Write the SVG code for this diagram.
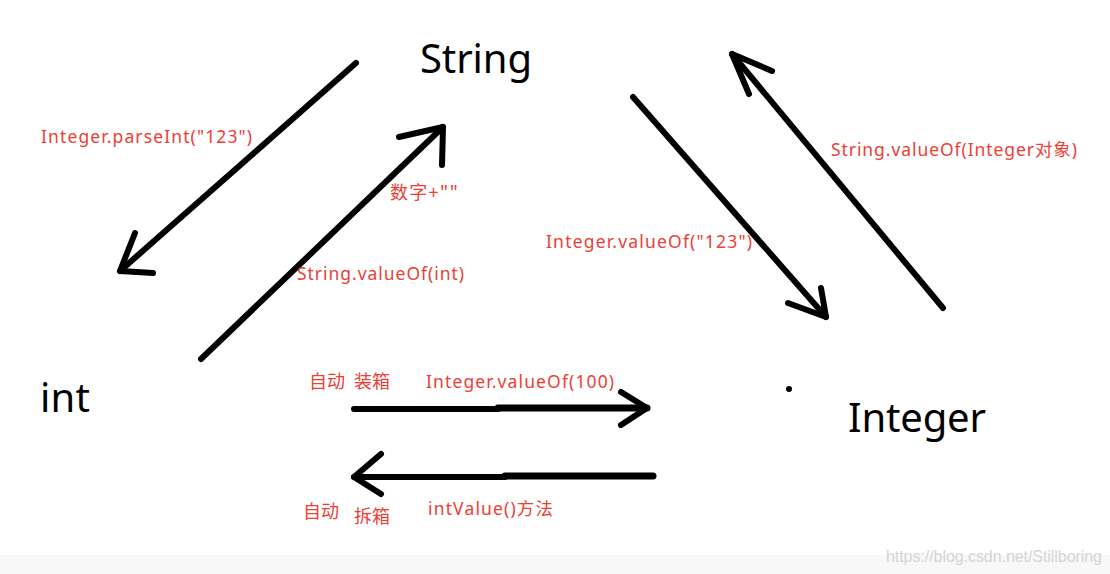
<svg xmlns="http://www.w3.org/2000/svg" width="1110" height="574" viewBox="0 0 1110 574">
<style>
.node{font-family:"Noto Sans","Open Sans","Liberation Sans",sans-serif;font-size:40px;fill:#000}
.lbl{font-family:"Noto Sans","Noto Sans CJK SC",sans-serif;font-size:17.5px;fill:#ec4036}
.cjk{font-family:"Noto Sans CJK SC","Noto Sans",sans-serif;font-size:18px;fill:#ec4036}
.wire{fill:none;stroke:#000;stroke-width:6;stroke-linecap:round;stroke-linejoin:round}
.wm{font-family:"Liberation Sans",Arial,sans-serif;font-size:16px;fill:#d4d4d4}
</style>
<rect x="0" y="0" width="1110" height="574" fill="#ffffff"/>
<rect x="0" y="555" width="1110" height="19" fill="#f8f8f8"/>
<g id="node-string"><text class="node" x="420" y="73" textLength="112">String</text></g>
<g id="node-int"><text class="node" x="40" y="412" textLength="50">int</text></g>
<g id="node-integer"><text class="node" x="848" y="432" textLength="138">Integer</text><circle cx="789" cy="389" r="3" fill="#000"/></g>
<g id="connectors">
<path class="wire" d="M356 63 L120 271"/>
<path class="wire" d="M135 233 L120 271 L153 273"/>
<path class="wire" d="M201 359 L443 127"/>
<path class="wire" d="M399 137 L443 127 L442 165"/>
<path class="wire" d="M633 97 L826 317"/>
<path class="wire" d="M821 288 L826 317 L788 303"/>
<path class="wire" d="M943 308 L732 54"/>
<path class="wire" d="M772 71 L732 54 L749 94"/>
<path class="wire" d="M354 409 L498 409"/>
<path class="wire" d="M498 408 L647 408" style="stroke-width:7"/>
<path class="wire" d="M621 392 L647 408 L621 425"/>
<path class="wire" d="M653 476 L505 476" style="stroke-width:7"/>
<path class="wire" d="M505 477 L354 477"/>
<path class="wire" d="M381 454 L354 477 L381 494"/>
</g>
<g id="labels">
<text class="lbl" x="41" y="143" textLength="211">Integer.parseInt("123")</text>
<text class="cjk" x="390" y="199" textLength="68">数字+""</text>
<text class="lbl" x="297" y="280" textLength="167">String.valueOf(int)</text>
<text class="lbl" x="546" y="248" textLength="206">Integer.valueOf("123")</text>
<text class="lbl" x="831" y="156" textLength="246">String.valueOf(Integer对象)</text>
<text class="cjk" x="309" y="388">自动</text>
<text class="cjk" x="354" y="388">装箱</text>
<text class="lbl" x="426" y="388" textLength="188">Integer.valueOf(100)</text>
<text class="lbl" x="428" y="515" textLength="125">intValue()方法</text>
<text class="cjk" x="303" y="518">自动</text>
<text class="cjk" x="354" y="523">拆箱</text>
</g>
<text class="wm" x="886" y="562" textLength="216">https://blog.csdn.net/Stillboring</text>
</svg>
